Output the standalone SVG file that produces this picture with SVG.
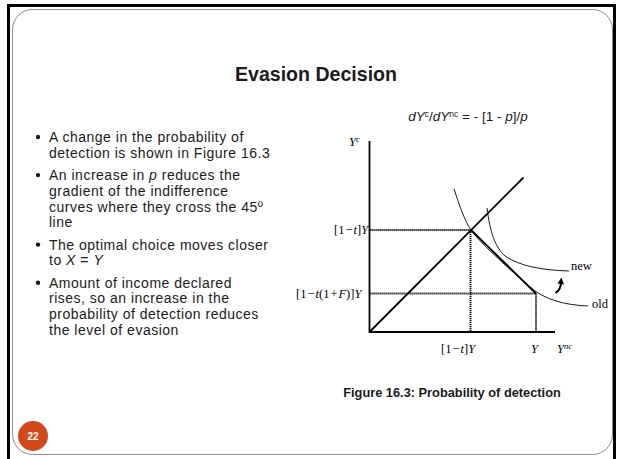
<svg xmlns="http://www.w3.org/2000/svg" width="619" height="459" viewBox="0 0 619 459">
<style>
.sans{font-family:"Liberation Sans",Arial,sans-serif;fill:#1a1a1a}
.bul{font-size:14px;letter-spacing:0.5px}
.ser{font-family:"Liberation Serif","Times New Roman",serif;fill:#000;font-size:12.5px}
.it{font-style:italic}
.dot{stroke:#000;stroke-width:1.9;stroke-dasharray:1.2 0.8;fill:none}
.solid{stroke:#000;stroke-width:1.8;fill:none}
.thin{stroke:#000;stroke-width:0.9;fill:none}
</style>
<rect x="0" y="0" width="619" height="459" fill="#fff"/>
<rect x="8.5" y="5.5" width="606" height="470" fill="none" stroke="#000" stroke-width="3"/>
<rect x="12.5" y="9.5" width="600" height="445" rx="20" ry="20" fill="#fff" stroke="#8c8c8c" stroke-width="1"/>

<g id="title"><text class="sans" x="316" y="81" font-size="21" font-weight="bold" text-anchor="middle" textLength="162" lengthAdjust="spacingAndGlyphs">Evasion Decision</text></g>

<g id="bullets" class="sans bul">
<circle cx="38" cy="137" r="2.2" fill="#1a1a1a"/>
<text x="49" y="142">A change in the probability of<tspan x="49" dy="15.7">detection is shown in Figure 16.3</tspan></text>
<circle cx="38" cy="175.1" r="2.2" fill="#1a1a1a"/>
<text x="49" y="180.1">An increase in <tspan class="it">p</tspan> reduces the<tspan x="49" dy="15.7">gradient of the indifference</tspan><tspan x="49" dy="15.7">curves where they cross the 45º</tspan><tspan x="49" dy="15.7">line</tspan></text>
<circle cx="38" cy="244.6" r="2.2" fill="#1a1a1a"/>
<text x="49" y="249.6">The optimal choice moves closer<tspan x="49" dy="15.7">to <tspan class="it">X</tspan> = <tspan class="it">Y</tspan></tspan></text>
<circle cx="38" cy="282.7" r="2.2" fill="#1a1a1a"/>
<text x="49" y="287.7">Amount of income declared<tspan x="49" dy="15.7">rises, so an increase in the</tspan><tspan x="49" dy="15.7">probability of detection reduces</tspan><tspan x="49" dy="15.7">the level of evasion</tspan></text>
</g>

<g id="formula"><text class="sans" x="468" y="121" font-size="13.5" text-anchor="middle"><tspan class="it">dY</tspan><tspan font-size="8.5" dy="-4.5">c</tspan><tspan dy="4.5">/</tspan><tspan class="it">dY</tspan><tspan font-size="8.5" dy="-4.5">nc</tspan><tspan dy="4.5"> = - [1 - </tspan><tspan class="it">p</tspan>]/<tspan class="it">p</tspan></text></g>

<g id="axes">
<path class="solid" d="M369.5,141 V332 H555" stroke-width="1.4"/>
<text class="ser it" x="349" y="146">Y<tspan font-size="8.5" dy="-4.5">c</tspan></text>
<text class="ser it" x="557" y="353">Y<tspan font-size="8.5" dy="-4.5">nc</tspan></text>
</g>

<g id="connectors">
<path class="dot" d="M369.5,230 H471 M470.5,230 V332 M369.5,293.5 H536 M536,293.5 V332"/>
<path class="solid" d="M369.5,332 L523.5,177.5"/>
<path class="solid" d="M471,230 L536,293.5"/>
<path class="thin" d="M454,189 C460,207 465,221.5 471,230 C481,244.2 515,274 530,287 C545,300 565,305 588,306"/>
<path class="thin" d="M487,208 C490,232 495,247 505,256 C520,266 540,270 569,271"/>
<path d="M555.5,293 C559,291 561,287 561,282" fill="none" stroke="#000" stroke-width="2"/>
<path d="M557.5,283.5 L561.5,277.5 L564,284.5 Z" fill="#000"/>
</g>

<g id="labels" class="ser">
<text x="334" y="234">[1<tspan dx="1">−</tspan><tspan class="it" dx="1">t</tspan>]<tspan class="it">Y</tspan></text>
<text x="296" y="297.5">[1<tspan dx="1">−</tspan><tspan class="it" dx="1">t</tspan>(1<tspan dx="1">+</tspan><tspan class="it" dx="1">F</tspan>)]<tspan class="it">Y</tspan></text>
<text x="441" y="353">[1<tspan dx="1">−</tspan><tspan class="it" dx="1">t</tspan>]<tspan class="it">Y</tspan></text>
<text class="it" x="531" y="353">Y</text>
<text x="571" y="269.5">new</text>
<text x="592" y="307.5">old</text>
</g>

<g id="caption"><text class="sans" x="452" y="397" font-size="12.8" font-weight="bold" text-anchor="middle">Figure 16.3: Probability of detection</text></g>

<g id="badge">
<circle cx="33" cy="436" r="15" fill="#D24A1A"/>
<text x="33" y="439.5" font-family="Liberation Sans,Arial,sans-serif" font-size="10" font-weight="bold" fill="#fff" text-anchor="middle">22</text>
</g>
</svg>
